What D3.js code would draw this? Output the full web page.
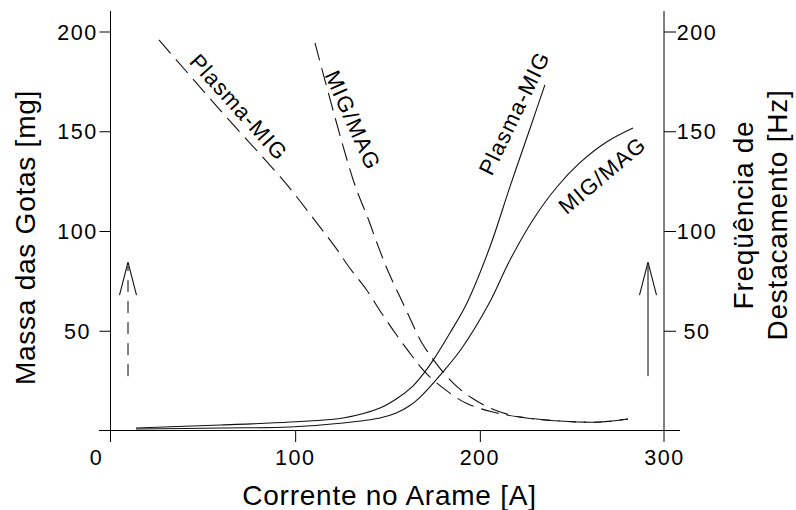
<!DOCTYPE html>
<html>
<head>
<meta charset="utf-8">
<script src="https://cdn.jsdelivr.net/npm/d3@7"></script>
<style>
  html, body { margin: 0; padding: 0; background: #fff; }
  svg { display: block; }
  text { font-family: "Liberation Sans", Arial, Helvetica, sans-serif; fill: #000; }
</style>
</head>
<body>
<svg id="chart" width="796" height="510"></svg>
<script>
// ---- data ----
const xTicks = [0, 100, 200, 300];
const yTicks = [50, 100, 150, 200];
const xTitle = "Corrente no Arame [A]";
const yLeftTitle = "Massa das Gotas [mg]";
const yRightTitle = ["Freqüência de", "Destacamento [Hz]"];

// Droplet mass (dashed)
const massPlasmaI = [26.5, 60, 95.1, 112.8, 121.8, 129.9, 139.0, 147.1, 155.2, 164.0, 170.5, 180.3, 192.7, 207.4, 222.0, 243.6, 265.3, 280.5];
const massPlasmaV = [195.5, 160, 123.7, 102.8, 91.9, 81.1, 70.2, 58.5, 47.6, 36.6, 29.1, 21.1, 13.5, 9.0, 6.5, 4.5, 4.0, 5.5];
const massMigI = [111.0, 131.7, 140.2, 145.3, 150.7, 157.0, 163.3, 169.6, 184.1, 196.0, 208.4, 222.0, 243.6, 265.3, 280.5];
const massMigV = [194.0, 125.3, 104.9, 91.9, 79.3, 66.8, 54.3, 42.6, 25.1, 16.0, 10.0, 6.5, 4.5, 4.0, 5.5];

// Detachment frequency (solid)
const freqPlasmaI = [14.1, 60, 97.5, 126.2, 146.2, 155.0, 164.0, 170.0, 175.0, 184.0, 193.3, 205.7, 216.6, 227.4, 235.5];
const freqPlasmaV = [1.0, 2.5, 4.0, 6.0, 11.0, 15.5, 22.0, 28.5, 35.0, 48.5, 63.7, 91.7, 122.0, 151.0, 173.0];
const freqMigI = [14.1, 60, 97.5, 126.2, 146.2, 155.0, 162.0, 168.0, 180.3, 190.6, 205.0, 216.6, 229.0, 242.0, 254.5, 269.1, 283.2];
const freqMigV = [0.5, 1.0, 1.5, 3.5, 6.0, 8.5, 12.0, 16.5, 29.1, 41.1, 63.0, 85.2, 105.3, 121.8, 134.0, 144.5, 151.4];

// arrows (current, value from, value to)
const arrowI = [9.7, 291.3];
const arrowFrom = [27, 27];
const arrowTo = [84.2, 84.2];

// curve labels
const curveLabels = ["Plasma-MIG", "MIG/MAG", "Plasma-MIG", "MIG/MAG"];

// ---- drawing ----
const svg = d3.select("#chart");
const x = d3.scaleLinear().domain([0, 300]).range([110, 664]);
const y = d3.scaleLinear().domain([0, 200]).range([430, 31]);

const tickFont = "21.5px";
const tickLS = "1.5px";

// axis lines
const ax = svg.append("g").attr("stroke", "#000").attr("stroke-width", 1).attr("fill", "none");
ax.append("line").attr("x1", x(0) + 0.5).attr("x2", x(0) + 0.5).attr("y1", y(210)).attr("y2", y(0) + 12);
ax.append("line").attr("x1", x(300)).attr("x2", x(300)).attr("y1", y(210)).attr("y2", y(0) + 12);
ax.append("line").attr("x1", x(0) - 11).attr("x2", x(300) + 16).attr("y1", y(0) + 0.5).attr("y2", y(0) + 0.5);

// left ticks
const gl = svg.append("g").attr("transform", `translate(${x(0) + 0.5},0)`)
  .call(d3.axisLeft(y).tickValues(yTicks).tickSize(11).tickPadding(0).tickFormat(d3.format("d")));
gl.select(".domain").remove();
gl.selectAll(".tick line").attr("stroke", "#000").attr("transform", "translate(0,0.5)");
gl.selectAll(".tick text").attr("x", -33).attr("text-anchor", "middle").attr("dy", "0.38em")
  .style("font-size", tickFont).style("letter-spacing", tickLS).attr("font-family", null);

// right ticks
const gr = svg.append("g").attr("transform", `translate(${x(300)},0)`)
  .call(d3.axisRight(y).tickValues(yTicks).tickSize(12).tickPadding(0).tickFormat(d3.format("d")));
gr.select(".domain").remove();
gr.selectAll(".tick line").attr("stroke", "#000").attr("transform", "translate(0,0.5)");
gr.selectAll(".tick text").attr("x", 33).attr("text-anchor", "middle").attr("dy", "0.38em")
  .style("font-size", tickFont).style("letter-spacing", tickLS).attr("font-family", null);

// bottom ticks
const gb = svg.append("g").attr("transform", `translate(0,${y(0)})`)
  .call(d3.axisBottom(x).tickValues(xTicks).tickSize(12).tickPadding(0).tickFormat(d3.format("d")));
gb.select(".domain").remove();
gb.selectAll(".tick line").attr("stroke", "#000")
  .filter(d => d === 0 || d === 300).remove();
gb.selectAll(".tick").filter(d => d !== 0 && d !== 300).select("line").attr("transform", "translate(0.5,0)");
gb.selectAll(".tick text").attr("y", 35).attr("dy", 0).attr("text-anchor", "middle")
  .attr("dx", d => d === 0 ? -14 : 0)
  .style("font-size", tickFont).style("letter-spacing", tickLS).attr("font-family", null);

// axis titles
svg.append("text").attr("x", 389.5).attr("y", 505).attr("text-anchor", "middle")
  .style("font-size", "28px").style("letter-spacing", "0.75px").text(xTitle);
svg.append("text").attr("transform", "translate(35,237.5) rotate(-90)").attr("text-anchor", "middle")
  .style("font-size", "28px").style("letter-spacing", "0.75px").text(yLeftTitle);
const rt = svg.append("text").attr("transform", "translate(753,215) rotate(-90)").attr("text-anchor", "middle")
  .style("font-size", "28px").style("letter-spacing", "0.75px");
rt.append("tspan").attr("x", 0).attr("y", 0).text(yRightTitle[0]);
rt.append("tspan").attr("x", 0).attr("y", 34).text(yRightTitle[1]);

// curves
const line = d3.line().x(d => x(d[0])).y(d => y(d[1])).curve(d3.curveCatmullRom.alpha(0.5));
const zip = (a, b) => a.map((v, i) => [v, b[i]]);
const curves = [
  { pts: zip(massPlasmaI, massPlasmaV), dash: "18,8" },
  { pts: zip(massMigI, massMigV), dash: "18,8" },
  { pts: zip(freqPlasmaI, freqPlasmaV), dash: null },
  { pts: zip(freqMigI, freqMigV), dash: null }
];
svg.append("g").selectAll("path").data(curves).join("path")
  .attr("d", d => line(d.pts))
  .attr("fill", "none").attr("stroke", "#111").attr("stroke-width", 1.1)
  .attr("stroke-dasharray", d => d.dash);

// curve labels
const labelPos = [
  { cx: 239, cy: 107, rot: 48 },
  { cx: 353, cy: 120, rot: 66 },
  { cx: 514, cy: 113, rot: -64 },
  { cx: 602, cy: 175, rot: -40 }
];
svg.append("g").selectAll("text").data(curveLabels).join("text")
  .attr("transform", (d, i) => `translate(${labelPos[i].cx},${labelPos[i].cy}) rotate(${labelPos[i].rot})`)
  .attr("text-anchor", "middle").attr("dy", "0.36em")
  .style("font-size", "22px").style("letter-spacing", "1.2px")
  .text(d => d);

// arrows
const ag = svg.append("g");
arrowI.forEach((ai, i) => {
  const px = Math.round(x(ai));
  ag.append("line").attr("x1", px).attr("x2", px).attr("y1", y(arrowFrom[i])).attr("y2", y(arrowTo[i]) + 4)
    .attr("stroke", "#000").attr("stroke-width", 1)
    .attr("stroke-dasharray", i === 0 ? "12,9" : null);
  ag.append("path")
    .attr("d", `M${px - 8.5},${y(arrowTo[i]) + 33} L${px},${y(arrowTo[i])} L${px + 8.5},${y(arrowTo[i]) + 33}`)
    .attr("fill", "none").attr("stroke", "#111").attr("stroke-width", 1.1);
});
</script>
</body>
</html>
